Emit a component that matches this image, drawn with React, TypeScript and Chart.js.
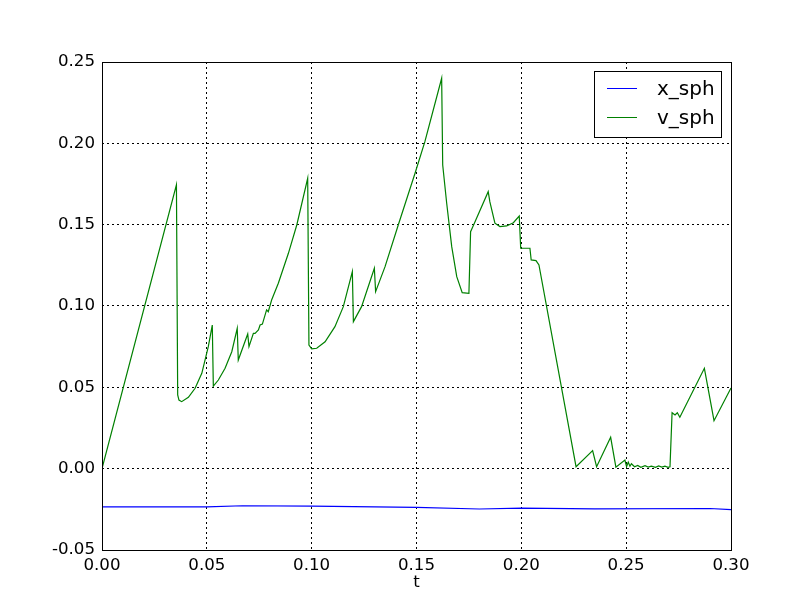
import React, { useEffect, useRef } from "react";
import { Chart, registerables } from "chart.js";

Chart.register(...registerables);

// x_sph series (blue)
const T_X = [0, 0.05, 0.067, 0.1, 0.15, 0.18, 0.2, 0.235, 0.29, 0.3];
const X_SPH = [-0.0235, -0.0235, -0.0228, -0.023, -0.0238, -0.0248, -0.0242, -0.0247, -0.0245, -0.0252];

// v_sph series (green)
const T_V = [
  0, 0.0355, 0.0361, 0.0367, 0.038, 0.0412, 0.0444, 0.0476, 0.0507, 0.0526,
  0.0531, 0.0555, 0.0587, 0.0619, 0.0645, 0.065, 0.0695, 0.0701, 0.0722, 0.073,
  0.0746, 0.0754, 0.0765, 0.0785, 0.0793, 0.0809, 0.0841, 0.0889, 0.0929, 0.0981,
  0.0987, 0.1, 0.1024, 0.1064, 0.1111, 0.1151, 0.1194, 0.1199, 0.1238, 0.1299,
  0.1305, 0.135, 0.1413, 0.1493, 0.154, 0.162, 0.1625, 0.1644, 0.1668, 0.1692,
  0.1718, 0.175, 0.1758, 0.1776, 0.1842, 0.185, 0.1874, 0.1898, 0.193, 0.1962,
  0.199, 0.1997, 0.2041, 0.2047, 0.207, 0.2084, 0.2261, 0.234, 0.2359, 0.2426,
  0.2451, 0.2494, 0.2502, 0.251, 0.2518, 0.2525, 0.254, 0.2555, 0.257, 0.259,
  0.2605, 0.262, 0.264, 0.2655, 0.267, 0.2685, 0.27, 0.2709, 0.2719, 0.2733,
  0.2744, 0.2756, 0.2873, 0.2919, 0.3,
];
const V_SPH = [
  0, 0.1745, 0.0453, 0.0422, 0.0412, 0.0439, 0.0494, 0.0586, 0.075, 0.0883,
  0.0508, 0.0545, 0.0617, 0.0719, 0.0863, 0.0668, 0.0828, 0.075, 0.0832, 0.0832,
  0.0853, 0.0883, 0.0889, 0.0976, 0.0965, 0.1037, 0.114, 0.1324, 0.1498, 0.1785,
  0.076, 0.0736, 0.074, 0.078, 0.0873, 0.0996, 0.1211, 0.0904, 0.0996, 0.1232,
  0.1088, 0.1242, 0.1498, 0.1816, 0.201, 0.24, 0.1867, 0.1632, 0.1365, 0.118,
  0.1082, 0.1078, 0.1457, 0.1509, 0.1703, 0.164, 0.1509, 0.1488, 0.1492, 0.1512,
  0.1553, 0.1355, 0.1355, 0.1283, 0.1279, 0.1252, 0.0012, 0.0111, 0.0012, 0.0193,
  0.0009, 0.0053, 0.0012, 0.004, 0.0015, 0.003, 0.0012, 0.002, 0.0008, 0.0018,
  0.001, 0.0016, 0.0008, 0.0017, 0.001, 0.0015, 0.0008, 0.0012, 0.0344, 0.033,
  0.0344, 0.0316, 0.0617, 0.0295, 0.0496,
];

const X_TICKS = [0, 0.05, 0.1, 0.15, 0.2, 0.25, 0.3];
const Y_TICKS = [-0.05, 0, 0.05, 0.1, 0.15, 0.2, 0.25];
const SERIES_LABELS = ["x_sph", "v_sph"];
const SERIES_COLORS = ["#0000ff", "#008000"];
const X_TITLE = "t";

const FONT_FAMILY = "'DejaVu Sans', sans-serif";

export default function App() {
  const ref = useRef<HTMLCanvasElement | null>(null);

  useEffect(() => {
    document.body.style.margin = "0";
    const canvas = ref.current;
    if (!canvas) return;

    const framePlugin = {
      id: "mplFrame",
      afterDraw(chart: any) {
        const { ctx, chartArea: a } = chart;
        ctx.save();
        ctx.setLineDash([]);
        ctx.strokeStyle = "#000";
        ctx.lineWidth = 1;
        const l = Math.floor(a.left) + 0.5;
        const t = Math.floor(a.top) + 0.5;
        const r = Math.floor(a.right) + 0.5;
        const b = Math.floor(a.bottom) + 0.5;
        ctx.strokeRect(l, t, r - l, b - t);

        // legend box (upper right)
        const bx = 594, by = 71, bw = 127, bh = 66;
        ctx.fillStyle = "#fff";
        ctx.fillRect(bx, by, bw, bh);
        ctx.strokeRect(bx + 0.5, by + 0.5, bw, bh);
        ctx.font = `20px ${FONT_FAMILY}`;
        ctx.textBaseline = "alphabetic";
        ctx.textAlign = "left";
        SERIES_LABELS.forEach((lab, i) => {
          const ly = 87.5 + i * 29.4;
          ctx.strokeStyle = SERIES_COLORS[i];
          ctx.beginPath();
          ctx.moveTo(607, Math.round(ly) + 0.5);
          ctx.lineTo(637, Math.round(ly) + 0.5);
          ctx.stroke();
          ctx.fillStyle = "#000";
          ctx.fillText(lab, 657, 94.5 + i * 29.2);
        });
        ctx.restore();
      },
    };

    const tickFont = { family: FONT_FAMILY, size: 16.67 };

    const chart = new Chart(canvas, {
      type: "line",
      data: {
        datasets: [
          {
            label: SERIES_LABELS[0],
            data: T_X.map((t, i) => ({ x: t, y: X_SPH[i] })),
            borderColor: SERIES_COLORS[0],
            backgroundColor: SERIES_COLORS[0],
            borderWidth: 1.2,
            pointRadius: 0,
            tension: 0,
            fill: false,
          },
          {
            label: SERIES_LABELS[1],
            data: T_V.map((t, i) => ({ x: t, y: V_SPH[i] })),
            borderColor: SERIES_COLORS[1],
            backgroundColor: SERIES_COLORS[1],
            borderWidth: 1.2,
            pointRadius: 0,
            tension: 0,
            fill: false,
          },
        ],
      },
      options: {
        animation: false,
        responsive: false,
        devicePixelRatio: 1,
        layout: { padding: { top: 62, right: 81, left: 0, bottom: 0 } },
        plugins: {
          legend: { display: false },
          tooltip: { enabled: false },
        },
        scales: {
          x: {
            type: "linear",
            min: 0,
            max: 0.3,
            afterBuildTicks: (s: any) => {
              s.ticks = X_TICKS.map((v) => ({ value: v }));
            },
            afterFit: (s: any) => {
              s.height = 62;
            },
            grid: { color: "#000", lineWidth: 1, drawTicks: false },
            border: { display: false, dash: [2, 3] },
            ticks: {
              color: "#000",
              font: tickFont,
              padding: 6,
              maxRotation: 0,
              autoSkip: false,
              callback: (v: any) => Number(v).toFixed(2),
            },
            title: {
              display: true,
              text: X_TITLE,
              color: "#000",
              font: tickFont,
              padding: { top: 0, bottom: 19 },
            },
          },
          y: {
            type: "linear",
            min: -0.05,
            max: 0.25,
            afterBuildTicks: (s: any) => {
              s.ticks = Y_TICKS.map((v) => ({ value: v }));
            },
            afterFit: (s: any) => {
              s.width = 102;
            },
            grid: { color: "#000", lineWidth: 1, drawTicks: false },
            border: { display: false, dash: [2, 3] },
            ticks: {
              color: "#000",
              font: tickFont,
              padding: 7,
              autoSkip: false,
              callback: (v: any) => Number(v).toFixed(2),
            },
          },
        },
      },
      plugins: [framePlugin],
    } as any);

    return () => chart.destroy();
  }, []);

  return (
    <div style={{ position: "absolute", left: 0, top: 0, width: 812, height: 612, background: "#fff" }}>
      <canvas ref={ref} width={812} height={612} style={{ display: "block", width: 812, height: 612 }} />
    </div>
  );
}
